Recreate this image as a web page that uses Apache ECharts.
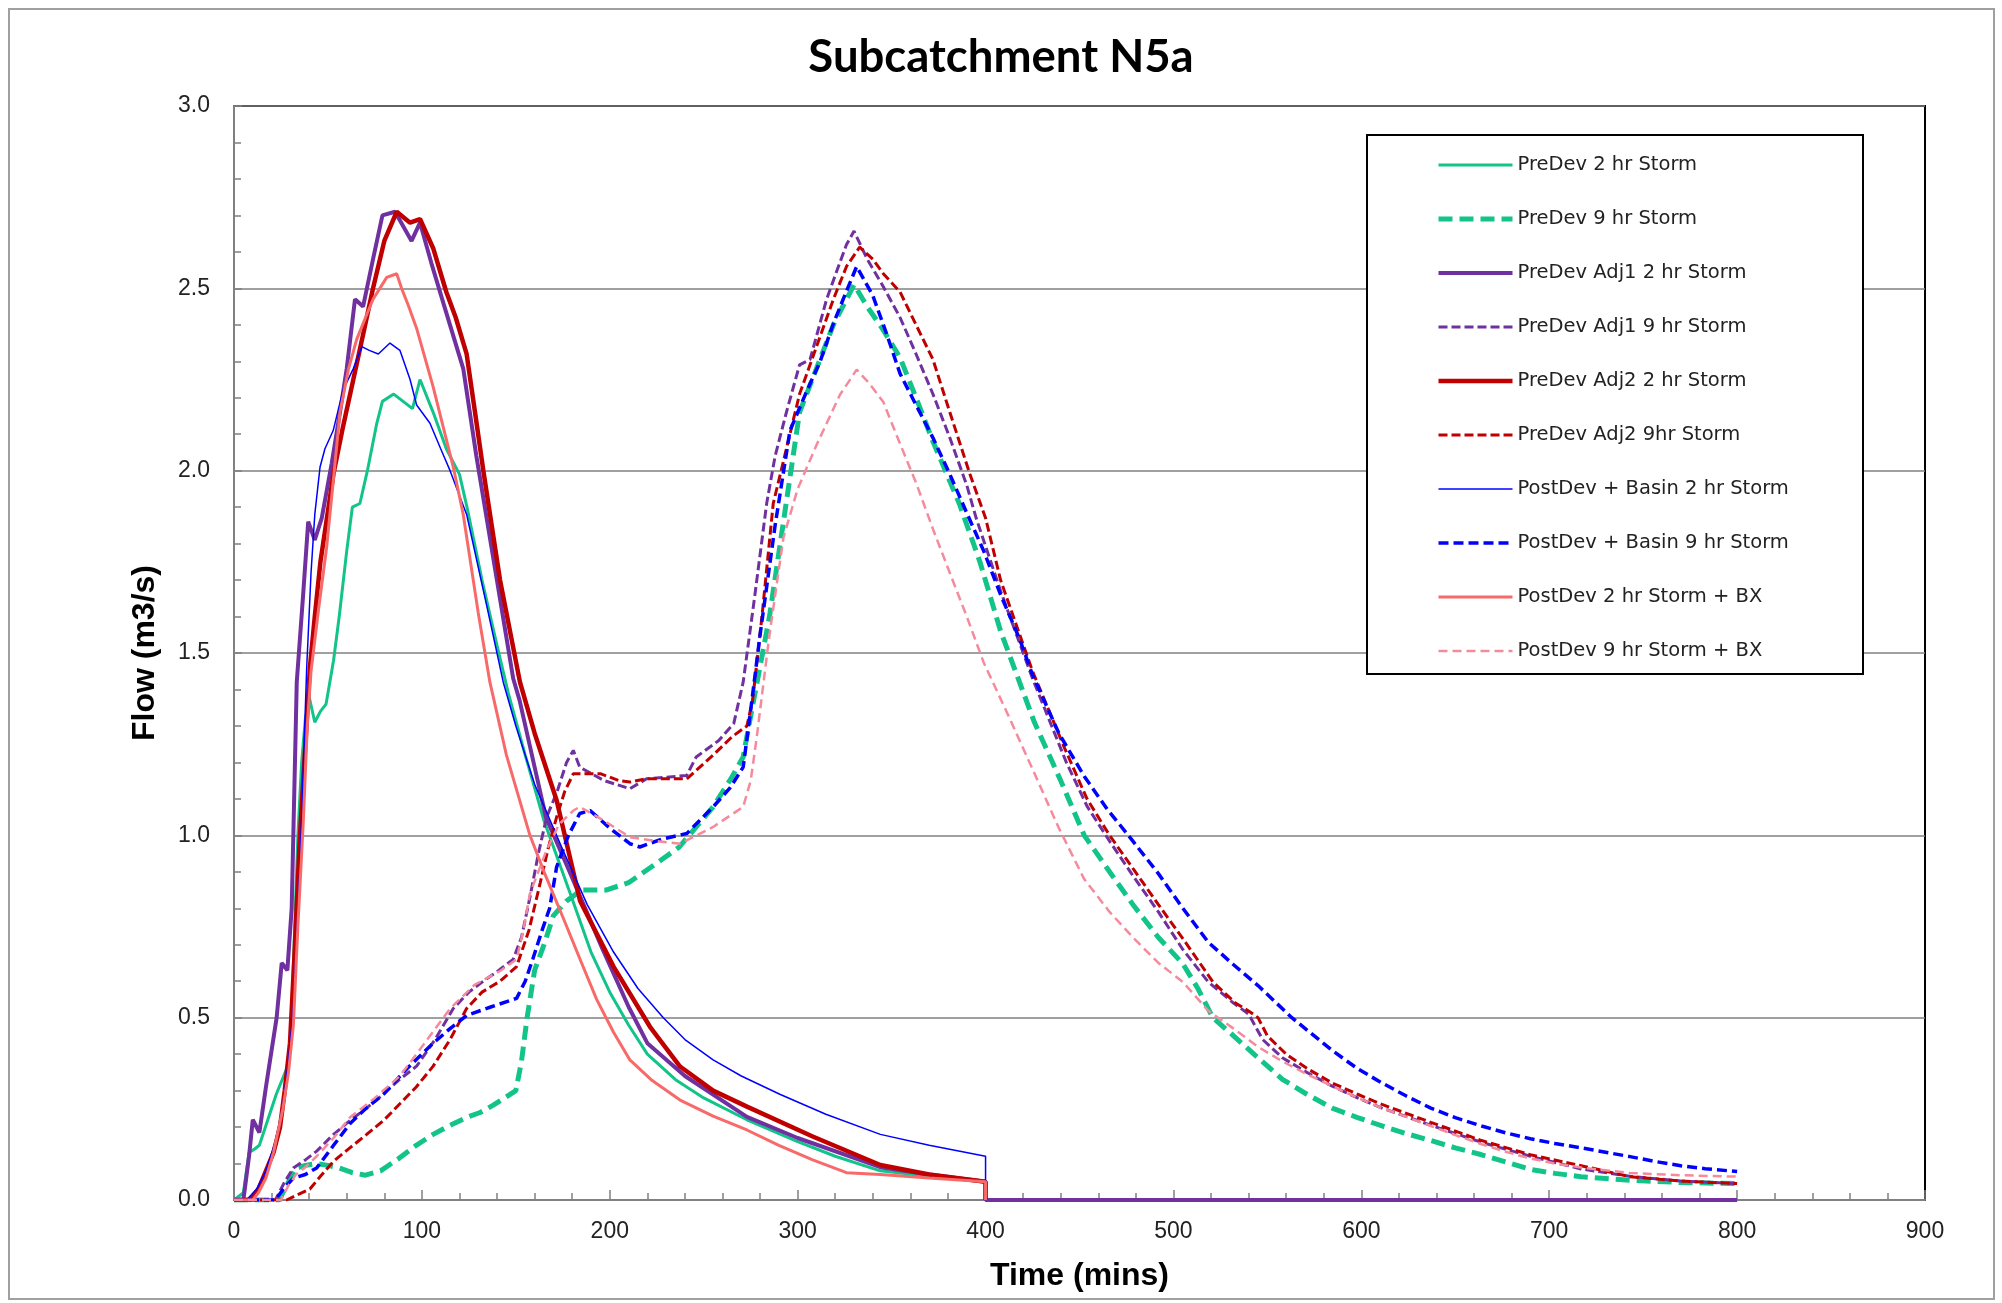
<!DOCTYPE html>
<html>
<head>
<meta charset="utf-8">
<script src="https://cdn.jsdelivr.net/npm/echarts@6/dist/echarts.min.js"></script>
<style>
  html, body { margin: 0; padding: 0; background: #fff; }
  #chart { width: 2002px; height: 1303px; }
</style>
</head>
<body>
<div id="chart"></div>
<script>
// ---------- DATA (time in mins, flow in m3/s) ----------
const titleText = 'Subcatchment N5a';
const xTitle = 'Time (mins)';
const yTitle = 'Flow (m3/s)';
const seriesNames = [
  'PreDev 2 hr Storm', 'PreDev 9 hr Storm',
  'PreDev Adj1 2 hr Storm', 'PreDev Adj1 9 hr Storm',
  'PreDev Adj2 2 hr Storm', 'PreDev Adj2 9hr Storm',
  'PostDev + Basin 2 hr Storm', 'PostDev + Basin 9 hr Storm',
  'PostDev 2 hr Storm + BX', 'PostDev 9 hr Storm + BX'
];

const preDev2hr = [[0,0],[5,0.02],[8,0.13],[11,0.14],[13.5,0.15],[18,0.22],[22.5,0.29],[28,0.36],[30,0.42],[32,0.7],[34,1.0],[36,1.2],[38,1.32],[40,1.38],[43,1.31],[46,1.34],[49,1.36],[53,1.48],[56,1.6],[60,1.78],[63,1.9],[67,1.91],[71,2.0],[76,2.13],[79,2.19],[85,2.21],[90,2.19],[95,2.17],[99,2.25],[106,2.16],[113,2.06],[120,1.99],[124,1.9],[132,1.7],[140,1.52],[146,1.39],[155,1.22],[165,1.04],[179,0.84],[190,0.68],[200,0.57],[210,0.48],[220,0.40],[235,0.33],[250,0.28],[273,0.22],[300,0.16],[320,0.12],[344,0.08],[370,0.065],[400,0.05],[400,0]];

const preDev9hr = [[0,0],[24,0],[28,0.04],[33,0.088],[38,0.095],[44,0.10],[50,0.095],[56,0.088],[63,0.075],[70,0.068],[78,0.08],[88,0.115],[97,0.15],[106,0.18],[115,0.205],[124,0.227],[131,0.24],[138,0.26],[150,0.30],[153,0.38],[156,0.5],[160,0.63],[165,0.7],[170,0.78],[177,0.82],[185,0.85],[198,0.85],[210,0.87],[224,0.92],[237,0.968],[255,1.078],[265,1.16],[271,1.215],[274,1.3],[285,1.6],[295,1.95],[301,2.16],[310,2.28],[319,2.40],[330,2.51],[337,2.45],[345,2.39],[354.5,2.31],[363,2.2],[372,2.08],[386,1.91],[397,1.75],[408,1.56],[426,1.31],[440,1.15],[452.5,1.0],[466,0.9],[479,0.806],[492,0.72],[505,0.648],[513,0.58],[521,0.50],[532,0.45],[545,0.39],[558,0.331],[571,0.29],[584.5,0.252],[598,0.226],[611,0.203],[624,0.182],[637,0.163],[650,0.143],[664,0.124],[677,0.104],[690,0.084],[703,0.073],[717,0.064],[743,0.054],[770,0.048],[800,0.045]];

const adj1_2hr = [[0,0],[5,0],[8,0.12],[10,0.22],[13.5,0.185],[17,0.31],[22.7,0.50],[25.4,0.65],[28.4,0.63],[30.7,0.80],[33.4,1.42],[36.8,1.66],[39.5,1.86],[43,1.81],[46.7,1.87],[52,2.02],[56.4,2.16],[60,2.28],[64.4,2.47],[68.7,2.45],[74,2.58],[79,2.70],[85.7,2.71],[94.5,2.63],[99,2.68],[105,2.57],[112,2.45],[122,2.28],[129,2.04],[138,1.76],[148.6,1.43],[152,1.37],[166,1.05],[178.6,0.90],[196,0.69],[210,0.53],[220,0.43],[240,0.34],[273,0.228],[300,0.17],[344,0.09],[370,0.07],[400,0.05],[400,0],[800,0]];

const adj1_9hr = [[0,0],[22,0],[27,0.05],[31.6,0.088],[38,0.11],[44,0.134],[53,0.18],[61.8,0.218],[70,0.25],[79.5,0.29],[88,0.33],[97.2,0.367],[107,0.44],[116.7,0.525],[125,0.57],[132.7,0.60],[141,0.63],[148.6,0.66],[153,0.72],[157.5,0.83],[162,0.95],[166.4,1.05],[172,1.12],[177,1.2],[180.6,1.233],[184,1.187],[197,1.15],[210.7,1.128],[219.6,1.155],[240.9,1.164],[246,1.215],[258,1.26],[266,1.307],[271,1.42],[277,1.65],[283.5,1.91],[288,2.04],[294,2.16],[301,2.29],[306.6,2.305],[315.4,2.47],[321,2.55],[326,2.62],[330,2.657],[337,2.58],[345,2.51],[354.5,2.42],[363,2.32],[372,2.21],[381,2.09],[390,1.96],[395,1.87],[408,1.67],[425,1.43],[443,1.2],[454,1.08],[466,0.984],[479,0.885],[492,0.79],[505,0.687],[518.5,0.598],[532,0.54],[540,0.51],[547.5,0.44],[558,0.39],[571,0.35],[584.5,0.312],[598,0.28],[611,0.252],[637,0.205],[664,0.158],[690,0.12],[717,0.085],[743,0.065],[770,0.052],[800,0.045]];

const adj2_2hr = [[0,0],[8.5,0],[13,0.03],[17,0.08],[21,0.13],[24.5,0.2],[27,0.3],[29.8,0.43],[32,0.65],[35,0.99],[38,1.25],[40.4,1.46],[43,1.6],[46,1.75],[52.9,1.99],[58,2.12],[63.5,2.25],[69,2.38],[74,2.50],[80,2.63],[86.6,2.71],[93.7,2.68],[99,2.69],[106,2.61],[113,2.49],[118,2.42],[123.8,2.32],[128,2.17],[132.7,2.0],[141.6,1.70],[152.2,1.42],[160,1.28],[171.7,1.096],[184.2,0.82],[202,0.64],[221.4,0.475],[237.4,0.366],[255,0.3],[273,0.256],[308,0.174],[344,0.096],[370,0.07],[400,0.05],[400,0]];

const adj2_9hr = [[0,0],[28,0],[34,0.015],[40.4,0.03],[46,0.065],[52.9,0.106],[61,0.14],[70.6,0.18],[80,0.22],[88.3,0.264],[97,0.31],[106,0.367],[115,0.44],[123.8,0.525],[132,0.57],[141.6,0.60],[150.4,0.64],[157,0.74],[163,0.87],[167,0.96],[171.7,1.05],[176,1.12],[180.6,1.169],[195,1.169],[205,1.15],[210.7,1.146],[219.6,1.155],[241,1.155],[255,1.22],[265,1.27],[273,1.30],[276,1.37],[281,1.6],[287,1.91],[294,2.06],[301,2.21],[310,2.34],[319,2.47],[326,2.56],[333,2.613],[340,2.58],[345.6,2.54],[354.5,2.49],[363,2.4],[372,2.305],[381,2.16],[391.7,1.99],[400,1.87],[408,1.7],[425,1.45],[442,1.24],[454,1.1],[466,1.0],[479,0.905],[492,0.81],[505,0.717],[521,0.598],[533,0.54],[541,0.515],[545,0.50],[550,0.45],[560,0.4],[571,0.361],[584.5,0.321],[598,0.29],[611,0.262],[637,0.213],[664,0.163],[690,0.124],[717,0.094],[743,0.064],[770,0.052],[800,0.045]];

const basin2hr = [[0,0],[6.7,0],[12,0.03],[17,0.08],[22,0.16],[26,0.26],[29,0.38],[31.6,0.525],[35,0.9],[38.7,1.46],[41,1.72],[43,1.88],[45.8,2.01],[48.4,2.06],[52.8,2.11],[58,2.22],[63.5,2.28],[68,2.34],[72,2.33],[76.8,2.32],[83,2.35],[88.3,2.33],[93.7,2.25],[97.2,2.18],[104.3,2.13],[110,2.06],[115,2.0],[123.8,1.88],[134.5,1.63],[143.3,1.42],[150,1.3],[160,1.14],[175,0.96],[188,0.81],[202,0.68],[215,0.58],[228.5,0.50],[240,0.44],[255,0.384],[270,0.34],[290.5,0.29],[315,0.235],[344,0.18],[370,0.15],[400,0.12],[400,0]];

const basin9hr = [[0,0],[22,0],[27,0.035],[31.6,0.06],[38,0.07],[44,0.088],[53,0.15],[61.8,0.21],[70,0.25],[79.5,0.29],[92,0.36],[106,0.43],[115,0.47],[123.8,0.506],[137,0.53],[150.4,0.553],[155,0.6],[159,0.66],[164,0.74],[168,0.80],[171.7,0.913],[178,1.0],[184,1.06],[189.5,1.068],[200,1.02],[210.7,0.977],[216,0.968],[228,0.99],[241,1.005],[255,1.078],[264,1.13],[271,1.187],[274.6,1.327],[280,1.55],[288,1.85],[295.9,2.11],[305,2.22],[312,2.3],[319,2.403],[325,2.48],[331.4,2.56],[340,2.48],[347,2.38],[354.5,2.266],[363,2.18],[372,2.09],[381,1.99],[390,1.884],[399,1.78],[408,1.66],[418,1.54],[425,1.44],[439,1.28],[452.5,1.162],[465,1.07],[476,1.0],[492,0.895],[505,0.8],[518.5,0.707],[532,0.645],[545,0.588],[563,0.5],[584.5,0.41],[598,0.36],[611,0.321],[624,0.285],[637,0.252],[650,0.226],[664,0.203],[677,0.184],[690,0.168],[703,0.155],[717,0.143],[730,0.131],[743,0.119],[756,0.106],[770,0.094],[783,0.086],[800,0.078]];

const bx2hr = [[0,0],[10,0],[13,0.02],[17,0.06],[21,0.13],[26,0.25],[29,0.35],[31.6,0.48],[34,0.75],[36.9,1.04],[39,1.3],[41,1.45],[45,1.62],[49.3,1.79],[53,1.98],[56.4,2.16],[61,2.28],[65.3,2.36],[70,2.42],[74,2.47],[81.3,2.53],[86.6,2.54],[89.2,2.50],[93,2.45],[97.2,2.39],[106,2.23],[116.7,2.01],[122,1.88],[130,1.61],[136.2,1.42],[145,1.22],[157.5,1.0],[165,0.9],[175,0.776],[185,0.65],[193,0.55],[202,0.46],[210.7,0.384],[222,0.33],[237.4,0.274],[255,0.23],[273,0.192],[290,0.15],[308,0.11],[326,0.075],[344,0.07],[370,0.06],[400,0.05],[400,0]];

const bx9hr = [[0,0],[25,0],[29,0.04],[33,0.07],[38,0.09],[44,0.12],[53,0.17],[61.8,0.227],[75,0.28],[88.3,0.34],[100,0.42],[115,0.525],[128,0.59],[141.6,0.628],[150.4,0.66],[154,0.74],[157.5,0.84],[166.4,0.96],[173,1.03],[180.6,1.068],[184,1.078],[197,1.04],[210.7,0.995],[224,0.985],[237.4,0.977],[255,1.023],[271,1.078],[275,1.15],[278.2,1.268],[285,1.55],[292.4,1.816],[300,1.95],[310,2.07],[322.5,2.208],[331.4,2.277],[338,2.24],[345.6,2.188],[354,2.08],[363.3,1.963],[372,1.84],[381.1,1.718],[390,1.6],[399,1.474],[412,1.33],[426,1.17],[439,1.02],[452.5,0.88],[466,0.79],[479,0.717],[492,0.65],[505,0.598],[518.5,0.519],[532,0.47],[545,0.42],[558,0.38],[571,0.345],[584.5,0.312],[598,0.28],[611,0.252],[624,0.228],[637,0.203],[650,0.178],[664,0.153],[677,0.132],[690,0.114],[703,0.1],[717,0.089],[743,0.074],[770,0.068],[800,0.064]];

const seriesData = [preDev2hr, preDev9hr, adj1_2hr, adj1_9hr, adj2_2hr, adj2_9hr, basin2hr, basin9hr, bx2hr, bx9hr];

// ---------- STYLES ----------
const styles = [
  { color: '#12C48A', width: 3,   type: 'solid' },
  { color: '#12C48A', width: 5,   type: [14, 7] },
  { color: '#7030A0', width: 4,   type: 'solid' },
  { color: '#7030A0', width: 3,   type: [9, 4] },
  { color: '#C00000', width: 4.5, type: 'solid' },
  { color: '#C00000', width: 3,   type: [9, 4] },
  { color: '#0000FF', width: 1.5, type: 'solid' },
  { color: '#0000FF', width: 3.5, type: [10, 5] },
  { color: '#F86A6A', width: 3,   type: 'solid' },
  { color: '#F58A9C', width: 2.5, type: [9, 5] }
];

const chart = echarts.init(document.getElementById('chart'), null, { renderer: 'canvas' });

const series = seriesNames.map((name, i) => ({
  name: name,
  type: 'line',
  data: seriesData[i],
  symbol: 'none',
  showSymbol: false,
  smooth: false,
  animation: false,
  z: 2,
  lineStyle: { color: styles[i].color, width: styles[i].width, type: styles[i].type },
  itemStyle: { color: styles[i].color }
}));

const option = {
  backgroundColor: '#ffffff',
  animation: false,
  title: {
    text: titleText,
    left: 'center',
    top: 29,
    textStyle: { fontFamily: 'Lato, "Liberation Sans", sans-serif', fontWeight: 'bold', fontSize: 45.5, color: '#000' }
  },
  grid: {
    left: 234, right: 77, top: 106, bottom: 103,
    show: true, backgroundColor: '#fff', borderColor: '#000', borderWidth: 2
  },
  xAxis: {
    type: 'value', min: 0, max: 900, interval: 100,
    name: xTitle, nameLocation: 'middle', nameGap: 60,
    nameTextStyle: { fontFamily: '"Liberation Sans", Arial, sans-serif', fontWeight: 'bold', fontSize: 32, color: '#000' },
    axisLine: { show: true, onZero: false, lineStyle: { color: '#808080', width: 2 } },
    axisTick: { show: true, inside: true, length: 10, lineStyle: { color: '#808080', width: 1.5 } },
    minorTick: { show: true, splitNumber: 5, length: 7, lineStyle: { color: '#808080', width: 1.5 } },
    axisLabel: { margin: 20, fontFamily: '"Liberation Sans", Arial, sans-serif', fontSize: 23, color: '#222' },
    splitLine: { show: false }
  },
  yAxis: {
    type: 'value', min: 0, max: 3, interval: 0.5,
    name: yTitle, nameLocation: 'middle', nameGap: 73,
    nameTextStyle: { fontFamily: '"Liberation Sans", Arial, sans-serif', fontWeight: 'bold', fontSize: 32, color: '#000' },
    axisLine: { show: true, onZero: false, lineStyle: { color: '#808080', width: 2 } },
    axisTick: { show: true, inside: true, length: 8, lineStyle: { color: '#808080', width: 1.5 } },
    minorTick: { show: true, splitNumber: 5, length: 7, lineStyle: { color: '#808080', width: 1.5 } },
    axisLabel: { margin: 24, fontFamily: '"Liberation Sans", Arial, sans-serif', fontSize: 23, color: '#222',
      formatter: v => v.toFixed(1) },
    splitLine: { show: true, lineStyle: { color: '#808080', width: 1.5 } }
  },
  legend: {
    orient: 'vertical',
    left: 1436, top: 155,
    itemWidth: 74, itemHeight: 14, itemGap: 34,
    padding: 0,
    itemStyle: { opacity: 0 },
    lineStyle: { width: 'inherit' },
    textStyle: { fontFamily: '"DejaVu Sans", sans-serif', fontSize: 19.5, color: '#222' },
    data: seriesNames,
    z: 10
  },
  graphic: [
    { type: 'rect', z: 5, shape: { x: 1367, y: 135, width: 496, height: 539 },
      style: { fill: '#fff', stroke: '#000', lineWidth: 2 } },
    { type: 'rect', z: -1, silent: true, shape: { x: 9, y: 9, width: 1985, height: 1290 },
      style: { fill: 'none', stroke: '#a0a0a0', lineWidth: 2 } }
  ],
  series: series
};

chart.setOption(option);
</script>
</body>
</html>
